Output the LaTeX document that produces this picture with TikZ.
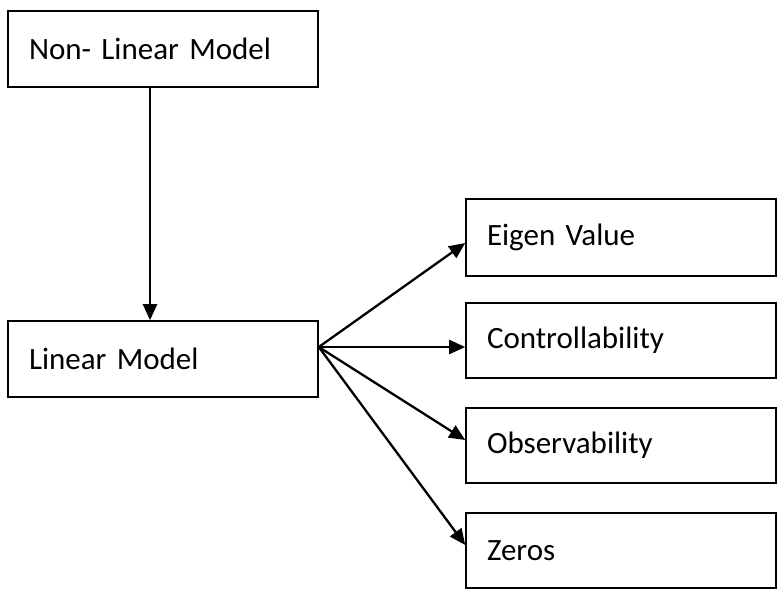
\documentclass[tikz,border=0pt]{standalone}
\usepackage{fontspec}
\setmainfont{Carlito}
\usetikzlibrary{arrows.meta,calc}

\tikzset{
  modelbox/.style={draw, line width=1.6pt, rectangle, minimum width=310pt,
    text width=268pt, inner xsep=21pt, align=left, font=\fontsize{31}{36}\selectfont},
  flow/.style={line width=2.3pt, -{Triangle[length=16pt,width=14pt]}}
}

\begin{document}
\begin{tikzpicture}[x=1pt, y=-1pt]
  \useasboundingbox (0,0) rectangle (779,590);

  % left column
  \node[modelbox, minimum height=76pt] (nonlin) at (163,49) {Non- Linear Model};
  \node[modelbox, minimum height=76pt] (lin) at (163,359) {Linear Model};

  % right column
  \node[modelbox, minimum height=77pt] (eig) at (621,237.5) {Eigen Value};
  \node[modelbox, minimum height=75pt] (ctrl) at (621,340.5) {Controllability};
  \node[modelbox, minimum height=75pt] (obs) at (621,445.5) {Observability};
  \node[modelbox, minimum height=75pt] (zer) at (621,550.5) {Zeros};

  % fan-out point on the linear model box
  \coordinate (fan) at ([yshift=12pt]lin.east);

  \draw[flow] (nonlin.south -| 150,0) -- (lin.north -| 150,0);
  \draw[flow] (fan) -- ([yshift=-5.5pt]eig.west);
  \draw[flow] (fan) -- (fan -| ctrl.west);
  \draw[flow] (fan) -- ([yshift=5.5pt]obs.west);
  \draw[flow] (fan) -- ([yshift=5.5pt]zer.west);
\end{tikzpicture}
\end{document}
